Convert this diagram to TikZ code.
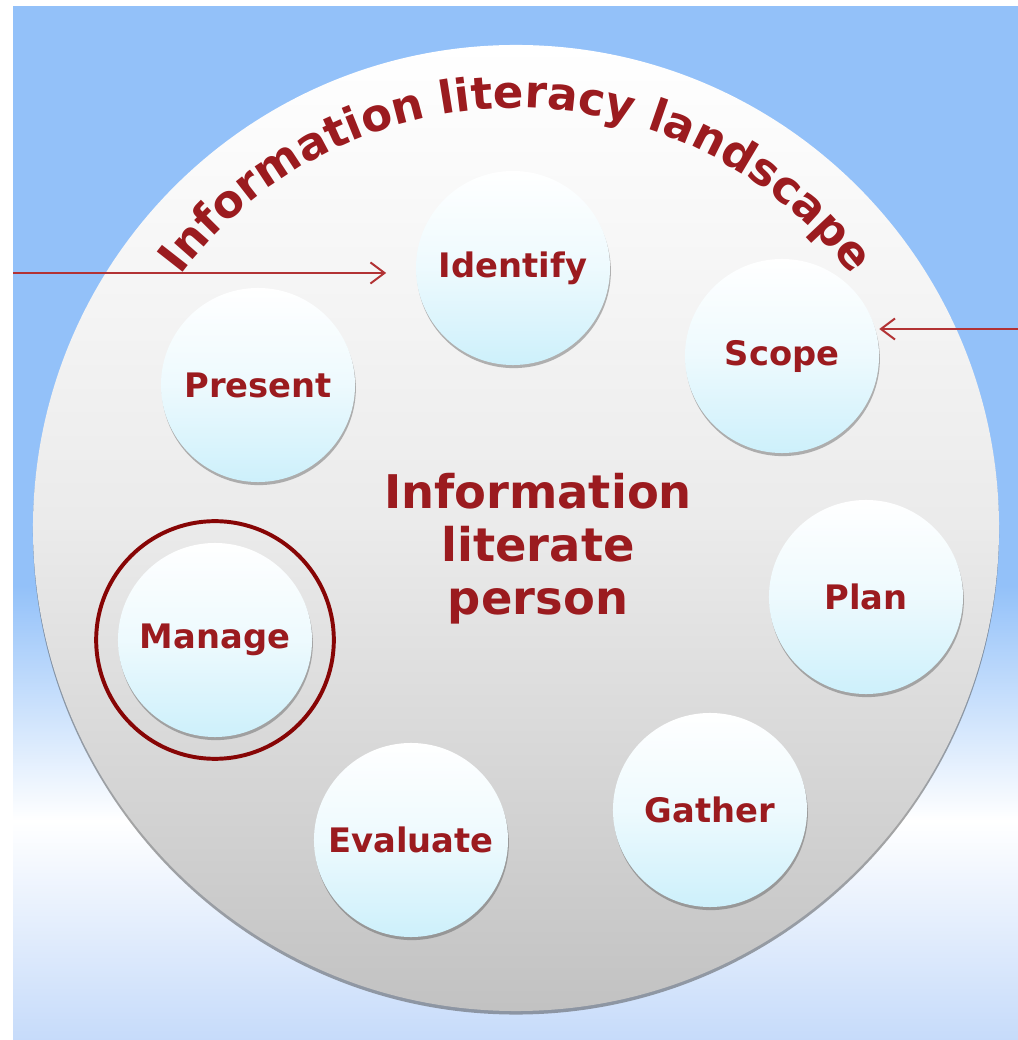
\documentclass[tikz,border=0pt]{standalone}
\usepackage{fontspec}
\setmainfont{DejaVu Sans}
\usepackage{tikz}
\usetikzlibrary{arrows.meta,shadows,decorations.text,positioning,calc}
\definecolor{skytop}{RGB}{147,193,249}
\definecolor{skybot}{RGB}{198,219,250}
\definecolor{labelred}{RGB}{155,27,31}
\definecolor{ringred}{RGB}{135,5,5}
\definecolor{arrowred}{RGB}{178,50,52}
\definecolor{bubble}{RGB}{205,240,251}
\pgfdeclareverticalshading{skyfade}{100bp}{color(0bp)=(skybot); color(25bp)=(skybot); color(35.6bp)=(white); color(47bp)=(skytop); color(100bp)=(skytop)}
\tikzset{
    stage/.style={circle, minimum size=138pt, inner sep=0pt, top color=white, bottom color=bubble, middle color=bubble!35, text=labelred, font=\fontsize{24}{28}\selectfont\bfseries, drop shadow={shadow xshift=0.6pt, shadow yshift=-2.2pt, opacity=0.4, fill=black!70}},
    land/.style={circle, minimum size=687pt, inner sep=0pt, top color=white, bottom color=black!24, middle color=black!8, drop shadow={shadow xshift=0pt, shadow yshift=-2.5pt, opacity=0.5, fill=black!70}},
    focus/.style={circle, draw=ringred, line width=2.8pt, minimum size=169pt, inner sep=0pt},
    cue/.style={-{Straight Barb[length=10pt, width=15pt]}, line width=1.4pt, arrowred}
}

\begin{document}
\begin{tikzpicture}[x=0.025cm, y=0.025cm]
    \useasboundingbox (0,0) rectangle (1018,1040);
    \fill[white] (0,0) rectangle (1018,1040);
    \shade[shading=skyfade] (13,0) rectangle (1018,1033);

    \node[land] (landscape) at (516,512) {};
    \path[decorate, decoration={text along path, text align=center,
        text={|\fontsize{32}{32}\selectfont\bfseries\color{labelred}|Information literacy landscape}}]
        ([shift={(143:420)}]landscape.center) arc[start angle=143, end angle=37, radius=420];

    \node[stage] (identify) at (513,772) {Identify};
    \node[stage] (scope) at (782,684) {Scope};
    \node[stage] (present) at (258,655) {Present};
    \node[stage] (plan) at (866,443) {Plan};
    \node[stage] (manage) at (215,400) {Manage};
    \node[stage] (gather) at (710,230) {Gather};
    \node[stage] (evaluate) at (411,200) {Evaluate};
    \node[focus] (ring) at (manage) {};

    \node[align=center, text=labelred, font=\fontsize{33}{37.7}\selectfont\bfseries] (person) at (538,491) {Information\\literate\\person};

    \coordinate (inL) at (13,767);
    \coordinate (inR) at (1018,711);
    \draw[cue, shorten >=21pt] (inL) -- (inL -| identify.west);
    \draw[cue] (inR) -- (inR -| scope.east);
\end{tikzpicture}
\end{document}
